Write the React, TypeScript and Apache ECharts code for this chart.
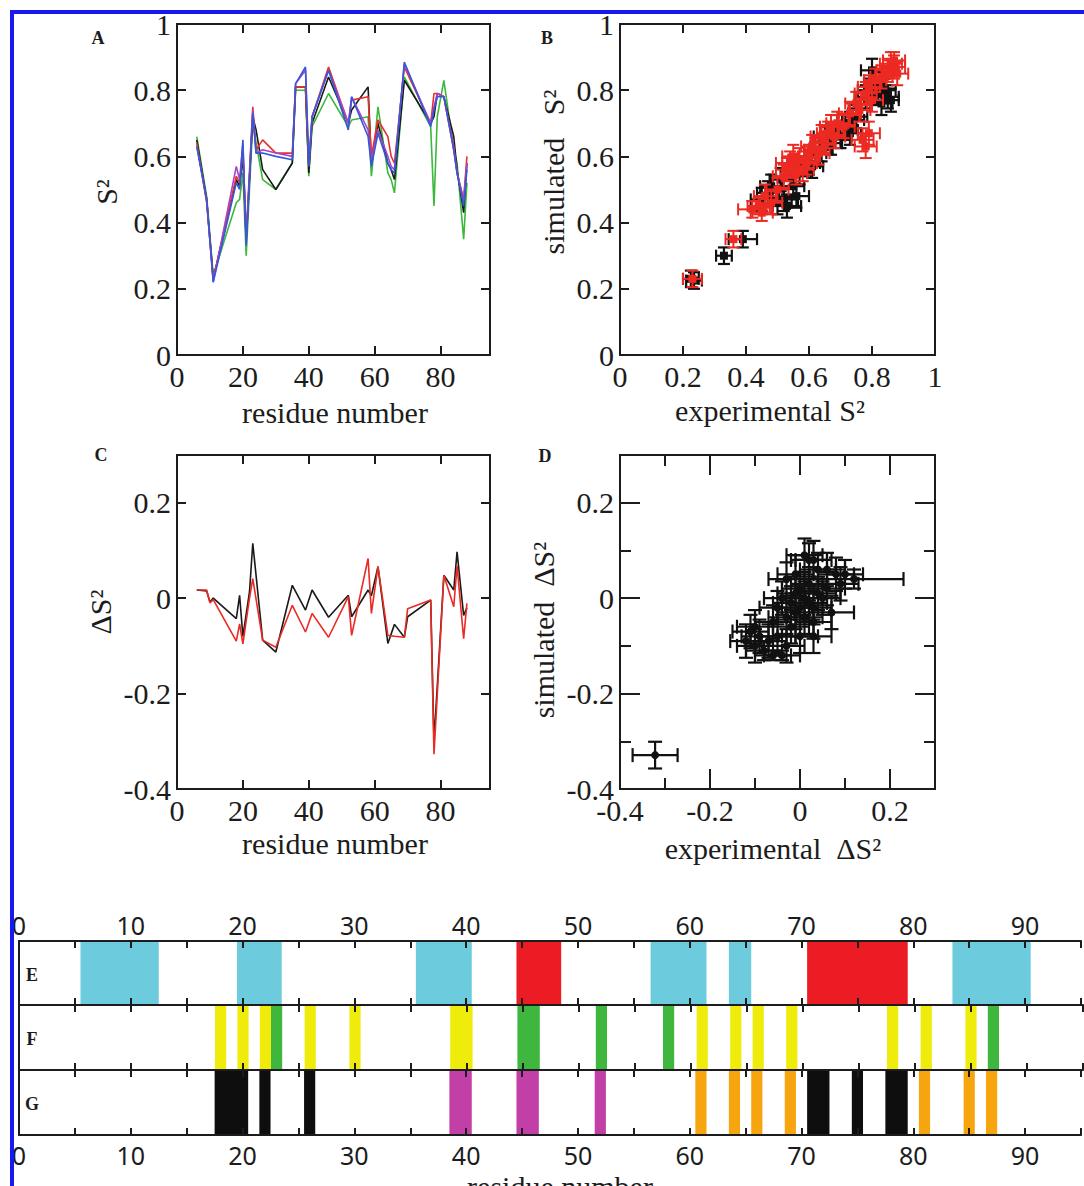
import React, { useEffect, useRef } from "react";
import * as echarts from "echarts";

// ---------- Panel A: S2 per residue ----------
const residuesA = [6, 9, 11, 18, 19, 20, 21, 23, 24, 26, 30, 35, 36, 39, 40, 41, 46, 52, 53, 58, 59, 61, 64, 65, 66, 69, 77, 78, 79, 81, 84, 85, 87, 88];
const s2Black = [0.65, 0.47, 0.23, 0.53, 0.51, 0.60, 0.35, 0.72, 0.68, 0.56, 0.50, 0.58, 0.81, 0.81, 0.55, 0.70, 0.84, 0.70, 0.74, 0.81, 0.58, 0.70, 0.58, 0.56, 0.53, 0.83, 0.70, 0.72, 0.79, 0.78, 0.66, 0.56, 0.43, 0.58];
const s2Red = [0.64, 0.46, 0.23, 0.54, 0.52, 0.62, 0.36, 0.75, 0.62, 0.65, 0.61, 0.61, 0.81, 0.81, 0.57, 0.72, 0.87, 0.70, 0.77, 0.78, 0.60, 0.71, 0.66, 0.60, 0.58, 0.87, 0.70, 0.79, 0.79, 0.78, 0.63, 0.55, 0.47, 0.60];
const s2Green = [0.66, 0.48, 0.24, 0.46, 0.47, 0.55, 0.30, 0.70, 0.64, 0.53, 0.50, 0.58, 0.80, 0.80, 0.54, 0.69, 0.79, 0.69, 0.71, 0.72, 0.54, 0.75, 0.55, 0.53, 0.49, 0.84, 0.69, 0.45, 0.72, 0.83, 0.62, 0.58, 0.35, 0.52];
const s2Blue = [0.63, 0.47, 0.22, 0.52, 0.50, 0.65, 0.33, 0.73, 0.61, 0.61, 0.60, 0.59, 0.82, 0.87, 0.57, 0.72, 0.86, 0.68, 0.78, 0.66, 0.57, 0.67, 0.58, 0.56, 0.55, 0.885, 0.69, 0.74, 0.78, 0.78, 0.62, 0.55, 0.45, 0.56];
const s2Magenta = [0.63, 0.47, 0.22, 0.57, 0.53, 0.64, 0.34, 0.74, 0.61, 0.62, 0.61, 0.60, 0.82, 0.86, 0.58, 0.72, 0.86, 0.70, 0.78, 0.68, 0.59, 0.68, 0.60, 0.57, 0.56, 0.88, 0.70, 0.75, 0.79, 0.78, 0.62, 0.55, 0.47, 0.58];

// ---------- Panel B: simulated vs experimental S2 [x, y, xErr, yErr] ----------
const bBlack = [
  [0.225, 0.23, 0.025, 0.025], [0.235, 0.225, 0.025, 0.025], [0.33, 0.30, 0.025, 0.025], [0.39, 0.35, 0.045, 0.025],
  [0.45, 0.47, 0.035, 0.035], [0.47, 0.49, 0.035, 0.035], [0.50, 0.46, 0.045, 0.035], [0.52, 0.47, 0.045, 0.035],
  [0.53, 0.45, 0.045, 0.035], [0.51, 0.53, 0.035, 0.035], [0.55, 0.51, 0.035, 0.035], [0.57, 0.55, 0.035, 0.035],
  [0.58, 0.57, 0.035, 0.03], [0.60, 0.58, 0.035, 0.035], [0.62, 0.61, 0.035, 0.035], [0.64, 0.62, 0.035, 0.035],
  [0.65, 0.66, 0.035, 0.03], [0.67, 0.64, 0.035, 0.035], [0.69, 0.69, 0.035, 0.035], [0.70, 0.66, 0.035, 0.035],
  [0.72, 0.68, 0.035, 0.03], [0.73, 0.67, 0.035, 0.035], [0.74, 0.71, 0.035, 0.035], [0.75, 0.72, 0.035, 0.035],
  [0.78, 0.78, 0.035, 0.035], [0.79, 0.80, 0.035, 0.035], [0.80, 0.86, 0.035, 0.035], [0.81, 0.82, 0.035, 0.035],
  [0.82, 0.79, 0.035, 0.035], [0.84, 0.80, 0.035, 0.035], [0.85, 0.78, 0.035, 0.035], [0.86, 0.77, 0.025, 0.035],
  [0.83, 0.76, 0.035, 0.035], [0.56, 0.48, 0.04, 0.035], [0.61, 0.57, 0.035, 0.035], [0.48, 0.51, 0.035, 0.035],
];
const bRed = [
  [0.23, 0.23, 0.03, 0.025], [0.36, 0.35, 0.025, 0.025], [0.42, 0.44, 0.045, 0.025], [0.44, 0.45, 0.035, 0.025],
  [0.46, 0.48, 0.035, 0.035], [0.48, 0.46, 0.035, 0.035], [0.50, 0.50, 0.035, 0.035], [0.53, 0.56, 0.035, 0.035],
  [0.54, 0.58, 0.045, 0.035], [0.55, 0.57, 0.035, 0.035], [0.56, 0.55, 0.035, 0.035], [0.57, 0.59, 0.035, 0.035],
  [0.58, 0.56, 0.035, 0.035], [0.60, 0.60, 0.035, 0.035], [0.62, 0.62, 0.035, 0.035], [0.63, 0.61, 0.035, 0.035],
  [0.65, 0.64, 0.035, 0.035], [0.66, 0.67, 0.035, 0.035], [0.68, 0.66, 0.035, 0.035], [0.69, 0.70, 0.035, 0.035],
  [0.71, 0.69, 0.035, 0.035], [0.73, 0.73, 0.035, 0.035], [0.76, 0.74, 0.035, 0.035], [0.77, 0.65, 0.035, 0.035],
  [0.78, 0.63, 0.035, 0.035], [0.79, 0.67, 0.035, 0.035], [0.78, 0.79, 0.035, 0.035], [0.79, 0.81, 0.035, 0.035],
  [0.80, 0.77, 0.035, 0.035], [0.81, 0.83, 0.035, 0.035], [0.85, 0.86, 0.035, 0.035], [0.86, 0.88, 0.035, 0.035],
  [0.87, 0.87, 0.035, 0.035], [0.88, 0.85, 0.035, 0.035], [0.87, 0.89, 0.035, 0.025], [0.52, 0.54, 0.035, 0.035],
  [0.59, 0.58, 0.035, 0.035], [0.64, 0.66, 0.035, 0.035], [0.45, 0.43, 0.035, 0.025], [0.55, 0.60, 0.035, 0.035],
  [0.61, 0.63, 0.035, 0.035], [0.67, 0.69, 0.035, 0.035], [0.75, 0.76, 0.035, 0.035], [0.83, 0.84, 0.035, 0.035],
];

// ---------- Panel C: delta S2 per residue ----------
const residuesC = [6, 9, 10, 11, 18, 19, 20, 22, 23, 26, 30, 35, 39, 41, 46, 52, 53, 58, 59, 61, 64, 66, 69, 70, 77, 78, 81, 84, 85, 87, 88];
const dBlack = [0.017, 0.015, -0.008, 0.0, -0.043, 0.006, -0.08, 0.013, 0.115, -0.088, -0.113, 0.027, -0.025, 0.017, -0.04, 0.006, -0.039, 0.017, 0.005, 0.066, -0.095, -0.055, -0.082, -0.039, -0.004, -0.30, 0.048, 0.017, 0.097, -0.036, -0.02];
const dRed = [0.017, 0.017, -0.01, -0.003, -0.09, -0.054, -0.096, 0.0, 0.041, -0.088, -0.103, -0.015, -0.071, -0.032, -0.082, 0.003, -0.078, 0.083, -0.032, 0.066, -0.078, -0.08, -0.082, -0.022, -0.004, -0.327, 0.048, -0.018, 0.068, -0.085, -0.011];

// ---------- Panel D: simulated vs experimental delta S2 [x, y, xErr, yErr] ----------
const dPoints = [
  [-0.322, -0.329, 0.05, 0.028],
  [-0.12, -0.09, 0.035, 0.035], [-0.11, -0.07, 0.04, 0.035], [-0.10, -0.10, 0.04, 0.035], [-0.09, -0.08, 0.04, 0.035],
  [-0.10, -0.06, 0.04, 0.035], [-0.08, -0.11, 0.04, 0.02], [-0.07, -0.09, 0.04, 0.035], [-0.06, -0.12, 0.04, 0.01],
  [-0.05, -0.08, 0.04, 0.035], [-0.04, -0.12, 0.04, 0.01], [-0.03, -0.10, 0.04, 0.035], [-0.06, -0.05, 0.04, 0.035],
  [-0.05, -0.02, 0.04, 0.035], [-0.04, 0.0, 0.04, 0.035], [-0.03, -0.04, 0.04, 0.035], [-0.02, -0.06, 0.04, 0.035],
  [-0.02, -0.01, 0.04, 0.035], [-0.01, -0.03, 0.04, 0.035], [0.0, -0.02, 0.04, 0.035], [-0.01, 0.01, 0.04, 0.035],
  [0.0, 0.02, 0.04, 0.035], [0.01, -0.04, 0.04, 0.035], [0.01, 0.0, 0.04, 0.035], [0.02, -0.01, 0.04, 0.035],
  [0.02, 0.03, 0.04, 0.035], [0.03, -0.02, 0.04, 0.035], [0.04, 0.01, 0.04, 0.035], [0.05, 0.0, 0.04, 0.035],
  [0.06, 0.02, 0.04, 0.035], [0.03, -0.05, 0.04, 0.035], [0.01, 0.09, 0.04, 0.035], [0.02, 0.08, 0.04, 0.035],
  [0.03, 0.08, 0.04, 0.04], [0.04, 0.06, 0.04, 0.035], [0.06, 0.06, 0.04, 0.035], [0.08, 0.05, 0.04, 0.035],
  [0.10, 0.05, 0.04, 0.03], [0.12, 0.04, 0.11, 0.02], [0.09, 0.03, 0.04, 0.035], [0.07, -0.03, 0.05, 0.035],
  [-0.03, 0.04, 0.04, 0.035], [-0.01, 0.05, 0.04, 0.04], [0.0, -0.08, 0.04, 0.035], [0.03, -0.08, 0.04, 0.035],
];

// ---------- Panels E, F, G: residue ranges [start, end, colour index] ----------
const rowE = [[5.5, 12.5, 0], [19.5, 23.5, 0], [35.5, 40.5, 0], [44.5, 48.5, 1], [56.5, 61.5, 0], [63.5, 65.5, 0], [70.5, 79.5, 1], [83.5, 90.5, 0]];
const rowF = [[17.5, 18.5, 0], [19.5, 20.5, 0], [21.5, 22.5, 0], [22.5, 23.5, 1], [25.5, 26.5, 0], [29.5, 30.5, 0], [38.5, 40.5, 0], [44.5, 46.5, 1], [51.5, 52.5, 1], [57.5, 58.5, 1], [60.5, 61.5, 0], [63.5, 64.5, 0], [65.5, 66.5, 0], [68.5, 69.5, 0], [77.5, 78.5, 0], [80.5, 81.5, 0], [84.5, 85.5, 0], [86.5, 87.5, 1]];
const rowG = [[17.5, 20.5, 0], [21.5, 22.5, 0], [25.5, 26.5, 0], [38.5, 40.5, 1], [44.5, 46.5, 1], [51.5, 52.5, 1], [60.5, 61.5, 2], [63.5, 64.5, 2], [65.5, 66.5, 2], [68.5, 69.5, 2], [70.5, 72.5, 0], [74.5, 75.5, 0], [77.5, 79.5, 0], [80.5, 81.5, 2], [84.5, 85.5, 2], [86.5, 87.5, 2]];
const colorsE = ["#6ccbdc", "#ec1c24"];
const colorsF = ["#efeb0a", "#3fb73e"];
const colorsG = ["#0e0e0e", "#c13fa7", "#f6a50f"];

const SERIF = '"Liberation Serif", "Times New Roman", serif';
const SANS = '"Noto Sans", "Open Sans", sans-serif';
const INK = "#1c1c1c";

function evenFmt(v: number) {
  const k = Math.round(v * 10);
  return k % 2 === 0 ? String(k / 10) : "";
}

type AxSpec = {
  min: number; max: number; interval: number; fmt?: (v: number) => string;
  tickLen?: number; fontSize?: number; font?: string; margin?: number; line?: boolean;
};

function mkAxis(gridIndex: number, position: string, s: AxSpec, showLabel: boolean) {
  return {
    type: "value", gridIndex, position, min: s.min, max: s.max, interval: s.interval,
    axisLine: { show: !!s.line, onZero: false, lineStyle: { color: INK, width: 2 } },
    axisTick: { show: true, inside: true, length: s.tickLen ?? 9, lineStyle: { color: INK, width: 2 } },
    splitLine: { show: false },
    axisLabel: {
      show: showLabel, fontFamily: s.font ?? SERIF, fontSize: s.fontSize ?? 30, color: INK,
      margin: s.margin ?? 7, formatter: s.fmt,
    },
    z: 5,
  };
}

function errorBarRender(color: string, dot: "square" | "circle", cap: number, lw: number) {
  return (_p: any, api: any) => {
    const x = api.value(0), y = api.value(1), ex = api.value(2), ey = api.value(3);
    const c = api.coord([x, y]);
    const l = api.coord([x - ex, y]);
    const r = api.coord([x + ex, y]);
    const t = api.coord([x, y + ey]);
    const b = api.coord([x, y - ey]);
    const st = { stroke: color, lineWidth: lw };
    const ln = (x1: number, y1: number, x2: number, y2: number) => ({ type: "line", shape: { x1, y1, x2, y2 }, style: st });
    const children: any[] = [
      ln(l[0], l[1], r[0], r[1]),
      ln(t[0], t[1], b[0], b[1]),
      ln(l[0], l[1] - cap, l[0], l[1] + cap),
      ln(r[0], r[1] - cap, r[0], r[1] + cap),
      ln(t[0] - cap, t[1], t[0] + cap, t[1]),
      ln(b[0] - cap, b[1], b[0] + cap, b[1]),
    ];
    if (dot === "square") {
      children.push({ type: "rect", shape: { x: c[0] - 4, y: c[1] - 4, width: 8, height: 8 }, style: { fill: color } });
    } else {
      children.push({ type: "circle", shape: { cx: c[0], cy: c[1], r: 4 }, style: { fill: color } });
    }
    return { type: "group", children };
  };
}

function barRender(colors: string[]) {
  return (_p: any, api: any) => {
    const s = api.value(0), e = api.value(1), ci = api.value(3);
    const p0 = api.coord([s, 1]);
    const p1 = api.coord([e, 0]);
    return {
      type: "rect",
      shape: { x: p0[0], y: p0[1], width: p1[0] - p0[0], height: p1[1] - p0[1] },
      style: { fill: colors[ci] },
    };
  };
}

function buildOption() {
  const panelGrids = [
    { left: 177, top: 24, width: 313, height: 331 },
    { left: 620, top: 24, width: 315, height: 331 },
    { left: 177, top: 455, width: 313, height: 334 },
    { left: 620, top: 455, width: 315, height: 334 },
  ].map((g) => ({ ...g, show: true, borderColor: INK, borderWidth: 2, backgroundColor: "transparent", z: 10 }));
  const rowGrids = [
    { left: 19, top: 941, width: 1064, height: 64 },
    { left: 19, top: 1005, width: 1064, height: 65 },
    { left: 19, top: 1070, width: 1064, height: 65 },
  ].map((g) => ({ ...g, show: false }));
  const grids = [...panelGrids, ...rowGrids];

  const xAxis: any[] = [];
  const yAxis: any[] = [];

  const resX: AxSpec = { min: 0, max: 95, interval: 20, fmt: (v: number) => (v % 20 === 0 ? String(v) : ""), margin: 6 };
  const unit: AxSpec = { min: 0, max: 1, interval: 0.2, margin: 6 };
  const delta: AxSpec = { min: -0.4, max: 0.3, interval: 0.2, fmt: evenFmt, margin: 6 };

  const addPanel = (gi: number, xs: AxSpec, ys: AxSpec) => {
    const xi = xAxis.length;
    xAxis.push(mkAxis(gi, "bottom", xs, true), mkAxis(gi, "top", xs, false));
    const yi = yAxis.length;
    yAxis.push(mkAxis(gi, "left", ys, true), mkAxis(gi, "right", ys, false));
    return { xi, yi };
  };

  const pA = addPanel(0, resX, unit);
  const pB = addPanel(1, unit, unit);
  const pC = addPanel(2, resX, delta);
  const dMajor: AxSpec = { ...delta, tickLen: 20 };
  const pD = addPanel(3, dMajor, dMajor);
  const dMinor: AxSpec = { min: -0.4, max: 0.3, interval: 0.1, tickLen: 11 };
  xAxis.push(mkAxis(3, "bottom", dMinor, false), mkAxis(3, "top", dMinor, false));
  yAxis.push(mkAxis(3, "left", dMinor, false), mkAxis(3, "right", dMinor, false));

  const rowX: AxSpec = {
    min: 0, max: 95, interval: 5, tickLen: 7, font: SANS, fontSize: 25, line: true,
    fmt: (v: number) => (v % 10 === 0 ? String(v) : ""),
  };
  const rowIdx: { xi: number; yi: number }[] = [];
  [4, 5, 6].forEach((gi) => {
    const xi = xAxis.length;
    xAxis.push(
      mkAxis(gi, "bottom", { ...rowX, margin: 7 }, gi === 6),
      mkAxis(gi, "top", { ...rowX, margin: 4 }, gi === 4)
    );
    const yi = yAxis.length;
    yAxis.push({
      type: "value", gridIndex: gi, min: 0, max: 1, position: "left",
      axisLine: { show: true, onZero: false, lineStyle: { color: INK, width: 2 } },
      axisTick: { show: false }, axisLabel: { show: false }, splitLine: { show: false }, z: 5,
    });
    rowIdx.push({ xi, yi });
  });

  const line = (p: { xi: number; yi: number }, xs: number[], ys: number[], color: string) => ({
    type: "line",
    xAxisIndex: p.xi, yAxisIndex: p.yi,
    data: xs.map((x, i) => [x, ys[i]]),
    showSymbol: false, symbol: "none",
    lineStyle: { color, width: 1.6 },
    z: 3,
  });

  const series: any[] = [
    line(pA, residuesA, s2Green, "#3cb83c"),
    line(pA, residuesA, s2Black, "#1a1a1a"),
    line(pA, residuesA, s2Red, "#e8302a"),
    line(pA, residuesA, s2Magenta, "#a845c8"),
    line(pA, residuesA, s2Blue, "#3558d8"),
    {
      type: "custom", xAxisIndex: pB.xi, yAxisIndex: pB.yi, data: bBlack,
      encode: { x: 0, y: 1 }, renderItem: errorBarRender("#111111", "square", 6, 2.2), z: 3,
    },
    {
      type: "custom", xAxisIndex: pB.xi, yAxisIndex: pB.yi, data: bRed,
      encode: { x: 0, y: 1 }, renderItem: errorBarRender("#ec2a22", "square", 6, 2), z: 4,
    },
    line(pC, residuesC, dBlack, "#1a1a1a"),
    line(pC, residuesC, dRed, "#ec2a22"),
    {
      type: "custom", xAxisIndex: pD.xi, yAxisIndex: pD.yi, data: dPoints,
      encode: { x: 0, y: 1 }, renderItem: errorBarRender("#111111", "circle", 7, 2.2), z: 3,
    },
  ];

  const rows = [rowE, rowF, rowG];
  const rowColors = [colorsE, colorsF, colorsG];
  rows.forEach((row, i) => {
    series.push({
      type: "custom",
      xAxisIndex: rowIdx[i].xi, yAxisIndex: rowIdx[i].yi,
      data: row.map((r) => [r[0], r[1], 0.5, r[2]]),
      encode: { x: [0, 1], y: 2 },
      renderItem: barRender(rowColors[i]),
      z: 2,
    });
  });

  const txt = (text: string, x: number, y: number, font: string, rotate = 0, va = "middle") => ({
    type: "text", x, y, rotation: rotate, z: 20,
    style: { text, font, fill: INK, textAlign: "center", textVerticalAlign: va, align: "center", verticalAlign: va },
  });
  const titleFont = `30px ${SERIF}`;
  const letterFont = `bold 18px ${SERIF}`;
  const R = Math.PI / 2;

  const graphic = [
    txt("A", 98, 38, letterFont),
    txt("B", 547, 38, letterFont),
    txt("C", 101, 455, letterFont),
    txt("D", 545, 456, letterFont),
    txt("residue number", 335, 412, titleFont),
    txt("S²", 106, 192, titleFont, R),
    txt("experimental S²", 770, 410, titleFont),
    txt("simulated   S²", 553, 172, titleFont, R),
    txt("residue number", 335, 843, titleFont),
    txt("ΔS²", 100, 612, titleFont, R),
    txt("experimental  ΔS²", 773, 848, titleFont),
    txt("simulated  ΔS²", 543, 630, titleFont, R),
    txt("E", 32, 975, letterFont),
    txt("F", 32, 1039, letterFont),
    txt("G", 32, 1104, letterFont),
    txt("residue number", 560, 1171, titleFont, 0, "top"),
    {
      type: "rect", z: 30,
      shape: { x: 12, y: 12, width: 2000, height: 2000 },
      style: { fill: "none", stroke: "#1818f2", lineWidth: 4 },
    },
  ];

  return {
    animation: false,
    backgroundColor: "#ffffff",
    grid: grids,
    xAxis,
    yAxis,
    series,
    graphic: { elements: graphic },
  };
}

export default function App() {
  const ref = useRef<HTMLDivElement>(null);
  useEffect(() => {
    document.body.style.margin = "0";
    const chart = echarts.init(ref.current as HTMLDivElement, null, { renderer: "svg" });
    chart.setOption(buildOption() as any);
    return () => chart.dispose();
  }, []);
  return <div ref={ref} style={{ width: 1084, height: 1186 }} />;
}
